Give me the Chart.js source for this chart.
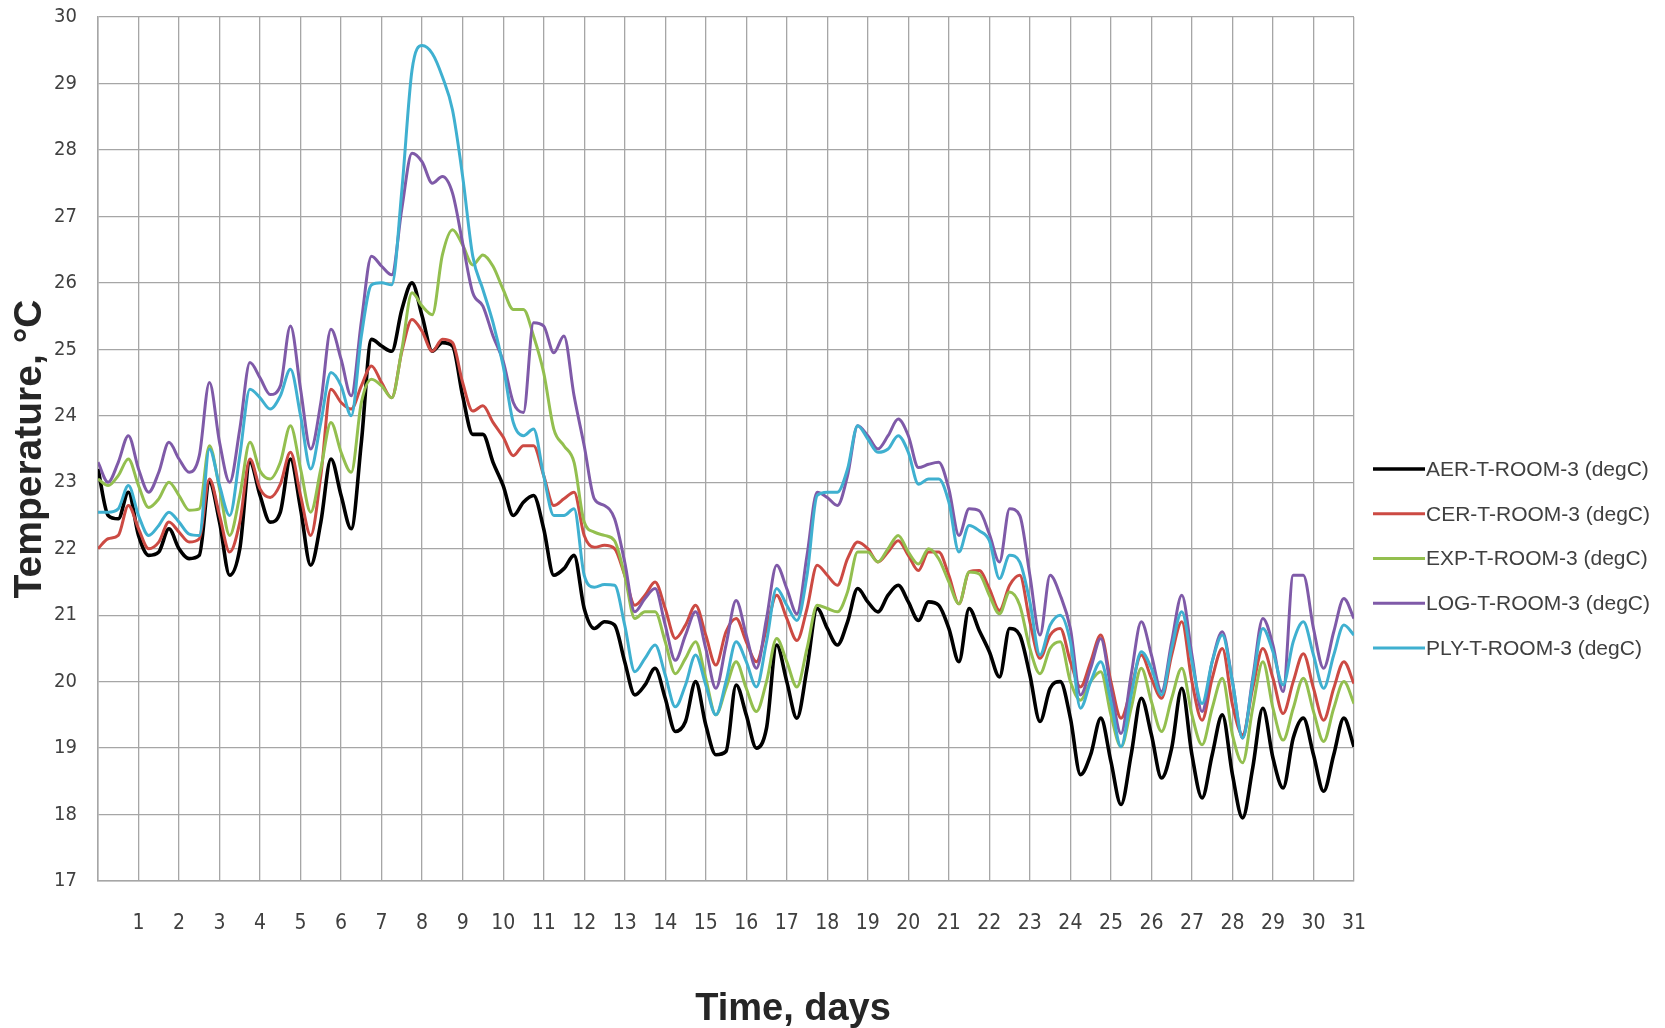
<!DOCTYPE html>
<html lang="en">
<head>
    <meta charset="UTF-8">
    <script src="https://cdn.jsdelivr.net/npm/chart.js"></script>
    <title>Room temperatures</title>
    <style>
        body { margin: 0; background: #fff; }
    </style>
</head>
<body>
    <canvas id="myChart" width="1665" height="1028"></canvas>

    <script>
        // sample times, days (every 6 h)
        const days = [
            0, 0.25, 0.5, 0.75, 1, 1.25, 1.5, 1.75, 2, 2.25, 2.5, 2.75, 3, 3.25, 3.5, 3.75,
            4, 4.25, 4.5, 4.75, 5, 5.25, 5.5, 5.75, 6, 6.25, 6.5, 6.75, 7, 7.25, 7.5, 7.75,
            8, 8.25, 8.5, 8.75, 9, 9.25, 9.5, 9.75, 10, 10.25, 10.5, 10.75, 11, 11.25, 11.5, 11.75,
            12, 12.25, 12.5, 12.75, 13, 13.25, 13.5, 13.75, 14, 14.25, 14.5, 14.75, 15, 15.25, 15.5, 15.75,
            16, 16.25, 16.5, 16.75, 17, 17.25, 17.5, 17.75, 18, 18.25, 18.5, 18.75, 19, 19.25, 19.5, 19.75,
            20, 20.25, 20.5, 20.75, 21, 21.25, 21.5, 21.75, 22, 22.25, 22.5, 22.75, 23, 23.25, 23.5, 23.75,
            24, 24.25, 24.5, 24.75, 25, 25.25, 25.5, 25.75, 26, 26.25, 26.5, 26.75, 27, 27.25, 27.5, 27.75,
            28, 28.25, 28.5, 28.75, 29, 29.25, 29.5, 29.75, 30, 30.25, 30.5, 30.75, 31
        ];

        const aer = [
            23.2, 22.5, 22.45, 22.85,  22.2, 21.9, 21.95, 22.3,  22.0, 21.85, 21.9, 23.0,  22.4, 21.6, 22.0, 23.3,
            22.8, 22.4, 22.55, 23.35,  22.6, 21.75, 22.4, 23.35,  22.8, 22.3, 23.6, 25.15,  25.05, 24.97, 25.6, 26.0,
            25.5, 24.97, 25.1, 25.05,  24.3, 23.72, 23.72, 23.3,  22.95, 22.5, 22.7, 22.8,  22.3, 21.6, 21.7, 21.9,
            21.1, 20.8, 20.9, 20.85,  20.3, 19.8, 19.95, 20.2,  19.75, 19.25, 19.4, 20.0,  19.35, 18.9, 18.95, 19.95,
            19.5, 19.0, 19.3, 20.55,  20.0, 19.45, 20.2, 21.1,  20.8, 20.55, 20.9, 21.4,  21.2, 21.05, 21.3, 21.45,
            21.2, 20.92, 21.2, 21.15,  20.8, 20.3, 21.1, 20.77,  20.45, 20.07, 20.8, 20.7,  20.1, 19.4, 19.9, 20.0,
            19.45, 18.6, 18.9, 19.45,  18.8, 18.15, 18.9, 19.75,  19.2, 18.55, 19.0, 19.9,  18.9, 18.25, 18.9, 19.5,
            18.6, 17.95, 18.7, 19.6,  18.85, 18.4, 19.15, 19.45,  18.9, 18.35, 18.9, 19.45,  19.02
        ];
        const cer = [
            22.0, 22.15, 22.2, 22.65,  22.3, 22.0, 22.1, 22.4,  22.25, 22.1, 22.15, 23.05,  22.5, 21.95, 22.4, 23.35,
            22.9, 22.77, 22.97, 23.45,  22.8, 22.2, 23.1, 24.4,  24.2, 24.1, 24.45, 24.75,  24.5, 24.27, 24.97, 25.45,
            25.27, 24.97, 25.15, 25.1,  24.5, 24.07, 24.15, 23.9,  23.68, 23.4, 23.55, 23.55,  23.1, 22.65, 22.75, 22.85,
            22.2, 22.02, 22.05, 22.0,  21.6, 21.15, 21.3, 21.5,  21.1, 20.65, 20.85, 21.15,  20.7, 20.25, 20.75, 20.95,
            20.6, 20.3, 20.8, 21.3,  20.95, 20.62, 21.1, 21.75,  21.6, 21.45, 21.85, 22.1,  22.0, 21.8, 21.95, 22.12,
            21.9, 21.67, 21.95, 21.95,  21.6, 21.17, 21.65, 21.67,  21.4, 21.07, 21.45, 21.6,  20.9, 20.35, 20.7, 20.8,
            20.3, 19.92, 20.3, 20.7,  20.0, 19.45, 19.9, 20.4,  20.05, 19.75, 20.4, 20.9,  20.0, 19.42, 20.05, 20.5,
            19.65, 19.2, 19.9, 20.5,  20.05, 19.52, 20.0, 20.42,  19.9, 19.42, 19.9, 20.3,  19.97
        ];
        const exp = [
            23.05, 22.95, 23.1, 23.35,  22.95, 22.62, 22.75, 23.0,  22.8, 22.58, 22.6, 23.55,  22.9, 22.2, 22.8, 23.6,
            23.17, 23.05, 23.3, 23.85,  23.2, 22.55, 23.2, 23.9,  23.45, 23.15, 24.2, 24.55,  24.45, 24.27, 25.0, 25.85,
            25.65, 25.52, 26.42, 26.8,  26.57, 26.27, 26.42, 26.25,  25.9, 25.6, 25.6, 25.2,  24.65, 23.8, 23.55, 23.3,
            22.4, 22.25, 22.2, 22.12,  21.6, 20.95, 21.05, 21.05,  20.6, 20.12, 20.35, 20.6,  20.05, 19.5, 19.9, 20.3,
            19.9, 19.55, 20.0, 20.65,  20.3, 19.92, 20.5, 21.15,  21.1, 21.05, 21.35, 21.95,  21.95, 21.8, 22.0, 22.2,
            21.95, 21.77, 22.0, 21.85,  21.5, 21.17, 21.65, 21.62,  21.3, 21.02, 21.35, 21.15,  20.5, 20.12, 20.5, 20.6,
            20.0, 19.72, 20.0, 20.15,  19.5, 19.02, 19.6, 20.2,  19.7, 19.25, 19.75, 20.2,  19.5, 19.05, 19.6, 20.05,
            19.2, 18.78, 19.6, 20.3,  19.6, 19.12, 19.6, 20.05,  19.55, 19.1, 19.6, 20.0,  19.67
        ];
        const log = [
            23.3, 23.0, 23.3, 23.7,  23.2, 22.85, 23.15, 23.6,  23.35, 23.15, 23.4, 24.5,  23.6, 23.0, 23.8, 24.8,
            24.57, 24.32, 24.45, 25.35,  24.4, 23.5, 24.2, 25.3,  24.85, 24.3, 25.42, 26.4,  26.25, 26.12, 27.12, 27.95,
            27.82, 27.5, 27.6, 27.35,  26.6, 25.85, 25.65, 25.2,  24.82, 24.2, 24.05, 25.4,  25.35, 24.95, 25.2, 24.3,
            23.55, 22.75, 22.65, 22.45,  21.8, 21.05, 21.25, 21.4,  20.85, 20.32, 20.7, 21.05,  20.5, 19.9, 20.55, 21.22,
            20.7, 20.2, 20.95, 21.75,  21.4, 21.02, 21.9, 22.85,  22.77, 22.65, 23.1, 23.85,  23.7, 23.5, 23.7, 23.95,
            23.7, 23.22, 23.27, 23.3,  22.9, 22.2, 22.6, 22.57,  22.22, 21.8, 22.6, 22.5,  21.6, 20.7, 21.6, 21.3,
            20.8, 19.8, 20.2, 20.65,  19.9, 19.22, 20.1, 20.9,  20.4, 19.85, 20.6, 21.3,  20.4, 19.55, 20.3, 20.75,
            20.0, 19.15, 20.05, 20.95,  20.55, 19.85, 21.6, 21.6,  20.8, 20.2, 20.75, 21.25,  20.95
        ];
        const ply = [
            22.55, 22.55, 22.6, 22.95,  22.5, 22.2, 22.35, 22.55,  22.4, 22.22, 22.2, 23.5,  22.95, 22.5, 23.4, 24.4,
            24.27, 24.1, 24.3, 24.7,  24.0, 23.2, 23.9, 24.65,  24.45, 24.0, 25.2, 25.97,  26.0, 25.97, 27.4, 29.2,
            29.57, 29.45, 29.1, 28.6,  27.6, 26.4, 25.9, 25.4,  24.75, 23.9, 23.7, 23.8,  23.1, 22.5, 22.5, 22.6,
            21.6, 21.42, 21.46, 21.45,  20.85, 20.15, 20.35, 20.55,  20.1, 19.62, 19.95, 20.4,  19.95, 19.5, 20.0, 20.6,
            20.3, 19.92, 20.6, 21.4,  21.15, 20.92, 21.6, 22.8,  22.85, 22.85, 23.2, 23.85,  23.65, 23.45, 23.5, 23.7,
            23.45, 22.97, 23.05, 23.05,  22.7, 21.95, 22.35, 22.27,  22.12, 21.55, 21.9, 21.8,  21.2, 20.4, 20.85, 21.0,
            20.6, 19.6, 20.0, 20.3,  19.7, 19.02, 19.8, 20.45,  20.2, 19.8, 20.5, 21.05,  20.3, 19.67, 20.3, 20.7,
            20.0, 19.15, 20.0, 20.8,  20.45, 19.95, 20.6, 20.9,  20.4, 19.9, 20.4, 20.85,  20.7
        ];

        const seriesNames = [
            'AER-T-ROOM-3 (degC)', 'CER-T-ROOM-3 (degC)', 'EXP-T-ROOM-3 (degC)',
            'LOG-T-ROOM-3 (degC)', 'PLY-T-ROOM-3 (degC)'
        ];
        const seriesColors = ['#000000', '#cc4a43', '#93bf4f', '#7f5aa8', '#3fb0d0'];
        const seriesValues = [aer, cer, exp, log, ply];

        const gridColor = '#a6a6a6';
        const textColor = '#404040';
        const narrow = '"Liberation Sans Narrow", "DejaVu Sans Condensed", "Liberation Sans", sans-serif';
        const sans = '"Liberation Sans", Arial, sans-serif';

        const toPoints = vals => days.map((d, i) => ({ x: d, y: vals[i] }));

        const datasets = seriesNames.map((name, i) => ({
            label: name,
            data: toPoints(seriesValues[i]),
            borderColor: seriesColors[i],
            backgroundColor: seriesColors[i],
            borderWidth: i === 0 ? 3.6 : 3,
            pointRadius: 0,
            cubicInterpolationMode: 'monotone',
            fill: false,
            order: seriesNames.length - 1 - i   // later series drawn on top, like Excel
        }));

        // legend + x title drawn by hand so they sit where the original has them
        const sideLegend = {
            id: 'sideLegend',
            afterDraw(chart) {
                const ctx = chart.ctx;
                ctx.save();
                ctx.font = '21px ' + sans;
                ctx.textBaseline = 'middle';
                chart.data.datasets.forEach((ds, i) => {
                    const y = 469 + i * 44.75;
                    ctx.strokeStyle = ds.borderColor;
                    ctx.lineWidth = i === 0 ? 3.6 : 3;
                    ctx.beginPath();
                    ctx.moveTo(1373, y);
                    ctx.lineTo(1425, y);
                    ctx.stroke();
                    ctx.fillStyle = textColor;
                    ctx.fillText(ds.label, 1426, y + 1);
                });
                ctx.font = 'bold 38px ' + sans;
                ctx.fillStyle = '#262626';
                ctx.textAlign = 'center';
                ctx.fillText('Time, days', 793, 1010);
                ctx.restore();
            }
        };

        const ctx = document.getElementById('myChart').getContext('2d');
        const myChart = new Chart(ctx, {
            type: 'line',
            data: { datasets: datasets },
            plugins: [sideLegend],
            options: {
                responsive: false,
                animation: false,
                devicePixelRatio: 1,
                layout: { padding: { left: 0, right: 311, top: 17, bottom: 0 } },
                plugins: {
                    legend: { display: false },
                    tooltip: { enabled: false }
                },
                scales: {
                    x: {
                        type: 'linear',
                        min: 0,
                        max: 31,
                        afterFit: s => { s.height = 147; s.paddingRight = 0; s.paddingLeft = 0; },
                        grid: { color: gridColor, lineWidth: 1.3, drawTicks: false },
                        border: { color: gridColor, width: 1.5 },
                        ticks: {
                            stepSize: 1,
                            padding: 30,
                            maxRotation: 0,
                            autoSkip: false,
                            color: textColor,
                            font: { family: narrow, size: 21 },
                            callback: v => (v === 0 ? '' : v)
                        }
                    },
                    y: {
                        min: 17,
                        max: 30,
                        afterFit: s => { s.width = 98; s.paddingTop = 0; s.paddingBottom = 0; },
                        grid: { color: gridColor, lineWidth: 1.3, drawTicks: false },
                        border: { color: gridColor, width: 1.5 },
                        ticks: {
                            stepSize: 1,
                            padding: 21,
                            color: textColor,
                            font: { family: narrow, size: 20 }
                        },
                        title: {
                            display: true,
                            text: 'Temperature, °C',
                            color: '#262626',
                            font: { family: sans, size: 39, weight: 'bold', lineHeight: 1 },
                            padding: { top: 11, bottom: 0 }
                        }
                    }
                }
            }
        });
    </script>
</body>
</html>
